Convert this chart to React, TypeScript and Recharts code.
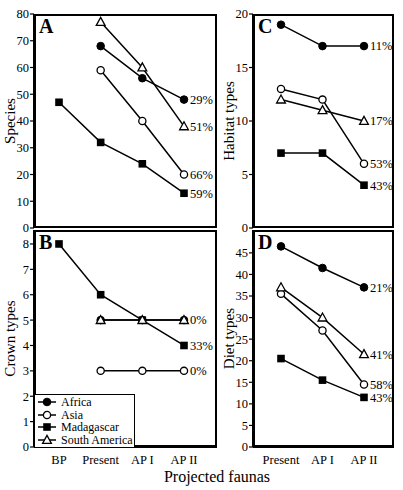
import { LineChart, Line, XAxis, YAxis } from "recharts";

const FONT = '"Liberation Serif", "Times New Roman", serif';

const leftCategories = ["BP", "Present", "AP I", "AP II"];
const rightCategories = ["Present", "AP I", "AP II"];

const seriesNames = ["Africa", "Asia", "Madagascar", "South America"];

// A: species
const speciesAfrica = [null, 68, 56, 48];
const speciesAsia = [null, 59, 40, 20];
const speciesMadagascar = [47, 32, 24, 13];
const speciesSouthAmerica = [null, 77, 60, 38];
const speciesPct = ["29%", "66%", "59%", "51%"];

// B: crown types
const crownAfrica = [null, 5, 5, 5];
const crownAsia = [null, 3, 3, 3];
const crownMadagascar = [8, 6, 5, 4];
const crownSouthAmerica = [null, 5, 5, 5];
const crownPct = ["0%", "0%", "33%", ""];

// C: habitat types
const habitatAfrica = [19, 17, 17];
const habitatAsia = [13, 12, 6];
const habitatMadagascar = [7, 7, 4];
const habitatSouthAmerica = [12, 11, 10];
const habitatPct = ["11%", "53%", "43%", "17%"];

// D: diet types
const dietAfrica = [46.5, 41.5, 37];
const dietAsia = [35.5, 27, 14.5];
const dietMadagascar = [20.5, 15.5, 11.5];
const dietSouthAmerica = [37, 30, 21.5];
const dietPct = ["21%", "58%", "43%", "41%"];

const keys = ["africa", "asia", "madagascar", "southAmerica"];
const shapes = ["filledCircle", "openCircle", "square", "triangle"];

function buildRows(cats: string[], cols: (number | null)[][]) {
  return cats.map((c, i) => {
    const row: any = { cat: c };
    keys.forEach((k, j) => (row[k] = cols[j][i]));
    return row;
  });
}

function Marker({ shape, cx, cy }: { shape: string; cx: number; cy: number }) {
  if (shape === "filledCircle")
    return <circle cx={cx} cy={cy} r={3.8} fill="#000" stroke="#000" />;
  if (shape === "openCircle")
    return <circle cx={cx} cy={cy} r={3.6} fill="#fff" stroke="#000" strokeWidth={1.3} />;
  if (shape === "square")
    return <rect x={cx - 3.8} y={cy - 3.8} width={7.6} height={7.6} fill="#000" />;
  return (
    <polygon
      points={`${cx},${cy - 4.6} ${cx - 4.4},${cy + 3.4} ${cx + 4.4},${cy + 3.4}`}
      fill="#fff"
      stroke="#000"
      strokeWidth={1.3}
    />
  );
}

function makeDot(shape: string, pct: string, last: number, tag: string) {
  return (props: any) => {
    const { cx, cy, index, value } = props;
    if (cx == null || cy == null || value == null || (Array.isArray(value) && value[1] == null))
      return <g key={`${tag}-${index}`} />;
    return (
      <g key={`${tag}-${index}`}>
        <Marker shape={shape} cx={cx} cy={cy} />
        {index === last && pct ? (
          <text x={cx + 6} y={cy} dy="0.35em" fontSize={12.5} fontFamily={FONT} fill="#000">
            {pct}
          </text>
        ) : null}
      </g>
    );
  };
}

type PanelProps = {
  left: number;
  top: number;
  width: number;
  height: number;
  data: any[];
  pct: string[];
  domain: [number, number];
  ticks: number[];
  ylabel: string;
  letter: string;
  showX: boolean;
  padding: { left: number; right: number };
  plotTop: number;
  plotBottom: number;
};

function Panel(p: PanelProps) {
  const last = p.data.length - 1;
  const xH = p.showX ? 28 : 0;
  const marginBottom = p.height - p.plotBottom - xH;
  const plotLeft = 34;
  const plotRight = p.width - 2;
  return (
    <div style={{ position: "absolute", left: p.left, top: p.top, width: p.width, height: p.height }}>
      <LineChart
        width={p.width}
        height={p.height}
        data={p.data}
        style={{ overflow: "visible" }}
        margin={{ top: p.plotTop, right: 2, left: 0, bottom: marginBottom }}
      >
        <XAxis
          dataKey="cat"
          hide={!p.showX}
          height={xH}
          padding={p.padding}
          tickLine={false}
          axisLine={{ stroke: "#000", strokeWidth: 2 }}
          tick={{ fill: "#000", fontSize: 12.5, fontFamily: FONT }}
          tickSize={6}
          tickMargin={2}
          interval={0}
        />
        <YAxis
          width={34}
          domain={p.domain}
          ticks={p.ticks}
          interval={0}
          allowDataOverflow
          axisLine={{ stroke: "#000", strokeWidth: 2 }}
          tickLine={{ stroke: "#000", strokeWidth: 1.2 }}
          tickSize={4}
          tickMargin={1}
          tick={{ fill: "#000", fontSize: 12.5, fontFamily: FONT }}
          label={{
            value: p.ylabel,
            angle: -90,
            position: "insideLeft",
            offset: 10,
            style: { textAnchor: "middle", fill: "#000", fontSize: 15, fontFamily: FONT },
          }}
        />
        {keys.map((k, j) => (
          <Line
            key={k}
            dataKey={k}
            stroke="#000"
            strokeWidth={1.5}
            isAnimationActive={false}
            dot={makeDot(shapes[j], p.pct[j], last, k)}
            activeDot={false}
          />
        ))}
      </LineChart>
      <div
        style={{
          position: "absolute",
          left: plotLeft,
          top: p.plotTop,
          width: plotRight - plotLeft,
          height: p.plotBottom - p.plotTop,
          border: "2px solid #000",
          boxSizing: "border-box",
          pointerEvents: "none",
        }}
      />
      <div
        style={{
          position: "absolute",
          left: plotLeft + 5,
          top: p.plotTop + 1,
          fontFamily: FONT,
          fontWeight: "bold",
          fontSize: 20,
          lineHeight: "22px",
        }}
      >
        {p.letter}
      </div>
    </div>
  );
}

function LegendBox() {
  return (
    <div
      style={{
        position: "absolute",
        left: 34,
        top: 394,
        width: 101,
        height: 54,
        border: "1.5px solid #000",
        boxSizing: "border-box",
        background: "#fff",
        fontFamily: FONT,
        fontSize: 12,
        padding: "1px 0 0 2px",
        whiteSpace: "nowrap",
      }}
    >
      {seriesNames.map((n, j) => (
        <div key={n} style={{ display: "flex", alignItems: "center", height: 12.5, lineHeight: "12.5px" }}>
          <svg width={20} height={12} style={{ flex: "none" }}>
            <line x1={1} y1={6} x2={19} y2={6} stroke="#000" strokeWidth={1.5} />
            <Marker shape={shapes[j]} cx={10} cy={6} />
          </svg>
          <span style={{ marginLeft: 4 }}>{n}</span>
        </div>
      ))}
    </div>
  );
}

export default function App() {
  const speciesRows = buildRows(leftCategories, [speciesAfrica, speciesAsia, speciesMadagascar, speciesSouthAmerica]);
  const crownRows = buildRows(leftCategories, [crownAfrica, crownAsia, crownMadagascar, crownSouthAmerica]);
  const habitatRows = buildRows(rightCategories, [habitatAfrica, habitatAsia, habitatMadagascar, habitatSouthAmerica]);
  const dietRows = buildRows(rightCategories, [dietAfrica, dietAsia, dietMadagascar, dietSouthAmerica]);
  return (
    <div style={{ position: "absolute", left: 0, top: 0, width: 403, height: 490, background: "#fff" }}>
      <style>{`svg.recharts-surface { overflow: visible; }`}</style>
      <Panel
        left={0}
        top={0}
        width={219}
        height={230}
        data={speciesRows}
        pct={speciesPct}
        domain={[0, 80]}
        ticks={[0, 10, 20, 30, 40, 50, 60, 70, 80]}
        ylabel="Species"
        letter="A"
        showX={false}
        padding={{ left: 25, right: 33 }}
        plotTop={14}
        plotBottom={228}
      />
      <Panel
        left={0}
        top={229}
        width={219}
        height={261}
        data={crownRows}
        pct={crownPct}
        domain={[0, 8.55]}
        ticks={[0, 1, 2, 3, 4, 5, 6, 7, 8]}
        ylabel="Crown types"
        letter="B"
        showX={true}
        padding={{ left: 25, right: 33 }}
        plotTop={1}
        plotBottom={218}
      />
      <Panel
        left={219}
        top={0}
        width={177}
        height={230}
        data={habitatRows}
        pct={habitatPct}
        domain={[0, 20]}
        ticks={[0, 5, 10, 15, 20]}
        ylabel="Habitat types"
        letter="C"
        showX={false}
        padding={{ left: 28, right: 30 }}
        plotTop={14}
        plotBottom={228}
      />
      <Panel
        left={219}
        top={229}
        width={177}
        height={261}
        data={dietRows}
        pct={dietPct}
        domain={[0, 50.3]}
        ticks={[0, 5, 10, 15, 20, 25, 30, 35, 40, 45]}
        ylabel="Diet types"
        letter="D"
        showX={true}
        padding={{ left: 28, right: 30 }}
        plotTop={1}
        plotBottom={218}
      />
      <LegendBox />
      <div
        style={{
          position: "absolute",
          left: 0,
          width: 434,
          top: 468,
          textAlign: "center",
          fontFamily: FONT,
          fontSize: 16,
        }}
      >
        Projected faunas
      </div>
    </div>
  );
}
